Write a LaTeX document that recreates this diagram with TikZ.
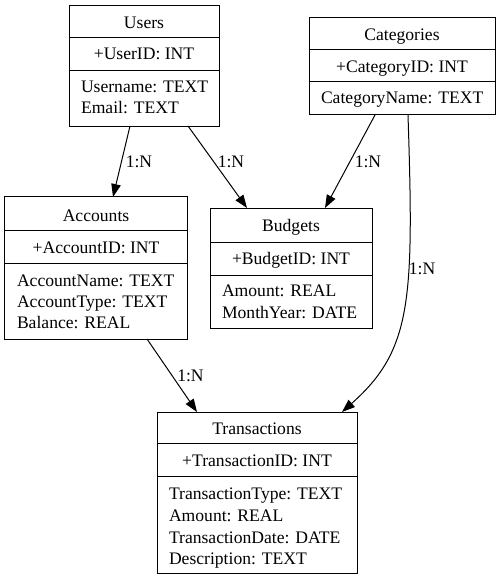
\documentclass[tikz,border=0pt]{standalone}
\usepackage{fontspec}
\setmainfont{Liberation Serif}
\usetikzlibrary{arrows.meta}
\tikzset{
  ent/.style={draw, line width=1bp, rectangle, inner sep=0pt, outer sep=0pt},
  sep/.style={line width=1bp},
  txt/.style={inner sep=0pt, outer sep=0pt, font=\fontsize{17.6bp}{21bp}\selectfont},
  hdr/.style={txt, anchor=base},
  fld/.style={txt, anchor=base west},
  lbl/.style={txt, anchor=base},
  rel/.style={line width=1bp, -{Triangle[length=13bp,width=9.5bp]}},
}
\begin{document}
\begin{tikzpicture}[x=1bp,y=-1bp]
\useasboundingbox (0,0) rectangle (501,581);

% Users
\node[ent, minimum width=150bp, minimum height=120bp] (users) at (144,66) {};
\draw[sep] (69,38) -- (219,38);
\draw[sep] (69,71) -- (219,71);
\node[hdr] (usersT) at (144,29) {Users};
\node[hdr] (usersK) at (144,60) {+UserID: INT};
\node[fld] (usersF1) at (81,93) {Username: TEXT};
\node[fld] (usersF2) at (81,114) {Email: TEXT};

% Categories
\node[ent, minimum width=186bp, minimum height=97bp] (cat) at (402,66.5) {};
\draw[sep] (309,50) -- (495,50);
\draw[sep] (309,82) -- (495,82);
\node[hdr] (catT) at (402,41) {Categories};
\node[hdr] (catK) at (402,73) {+CategoryID: INT};
\node[fld] (catF1) at (321,104) {CategoryName: TEXT};

% Accounts
\node[ent, minimum width=182bp, minimum height=142bp] (acc) at (96,268) {};
\draw[sep] (5,230) -- (187,230);
\draw[sep] (5,263) -- (187,263);
\node[hdr] (accT) at (96,221) {Accounts};
\node[hdr] (accK) at (96,253) {+AccountID: INT};
\node[fld] (accF1) at (17,286) {AccountName: TEXT};
\node[fld] (accF2) at (17,307) {AccountType: TEXT};
\node[fld] (accF3) at (17,328) {Balance: REAL};

% Budgets
\node[ent, minimum width=162bp, minimum height=120bp] (bud) at (291,268) {};
\draw[sep] (210,242) -- (372,242);
\draw[sep] (210,275) -- (372,275);
\node[hdr] (budT) at (291,231) {Budgets};
\node[hdr] (budK) at (291,264) {+BudgetID: INT};
\node[fld] (budF1) at (222,296) {Amount: REAL};
\node[fld] (budF2) at (222,318) {MonthYear: DATE};

% Transactions
\node[ent, minimum width=200bp, minimum height=161bp] (tra) at (257,492.5) {};
\draw[sep] (157,443) -- (357,443);
\draw[sep] (157,476) -- (357,476);
\node[hdr] (traT) at (257,434) {Transactions};
\node[hdr] (traK) at (257,466) {+TransactionID: INT};
\node[fld] (traF1) at (169,499) {TransactionType: TEXT};
\node[fld] (traF2) at (169,521) {Amount: REAL};
\node[fld] (traF3) at (169,543) {TransactionDate: DATE};
\node[fld] (traF4) at (169,564) {Description: TEXT};

% Connectors
\draw[rel] ([xshift=61bp]users.south west) -- ([xshift=108bp]acc.north west);
\node[lbl] (l1) at (139,168) {1:N};
\draw[rel] ([xshift=119bp]users.south west) -- ([xshift=37bp]bud.north west);
\node[lbl] (l2) at (231,168) {1:N};
\draw[rel] ([xshift=66bp]cat.south west) -- ([xshift=115bp]bud.north west);
\node[lbl] (l3) at (368,168) {1:N};
\draw[rel] ([xshift=99bp]cat.south west) .. controls (414,300) and (412,350) .. ([xshift=185bp]tra.north west);
\node[lbl] (l4) at (422,274) {1:N};
\draw[rel] ([xshift=142bp]acc.south west) -- ([xshift=40bp]tra.north west);
\node[lbl] (l5) at (190.5,381) {1:N};
\end{tikzpicture}
\end{document}
